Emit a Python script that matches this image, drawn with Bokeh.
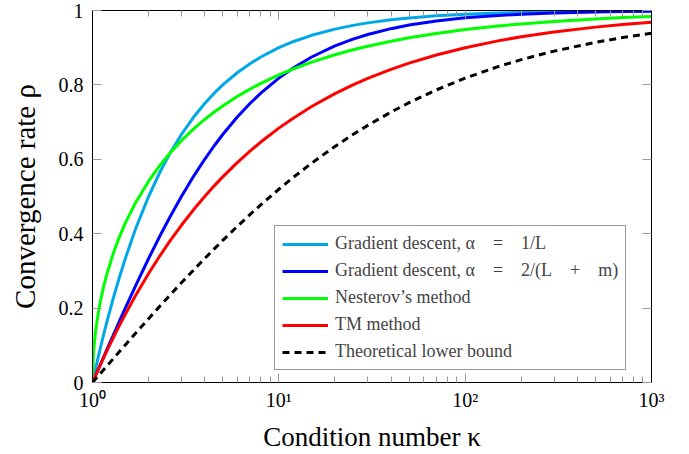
from bokeh.plotting import figure
from bokeh.models import Range1d, FixedTicker, LogAxis, LinearAxis, Legend, LegendItem
from bokeh.embed import file_html
from bokeh.resources import INLINE

# condition number kappa
kappa = [1, 1.01, 1.02, 1.04, 1.07, 1.1, 1.15, 1.2, 1.3, 1.4, 1.5, 1.7, 2, 2.3, 2.6, 3,
         3.5, 4, 4.5, 5, 6, 7, 8, 10, 12, 15, 20, 25, 30, 40, 50, 70, 100, 150, 200,
         300, 500, 700, 1000]
# convergence rates
gd_inv_L = [0, 0.0099, 0.0196, 0.0385, 0.0654, 0.0909, 0.1304, 0.1667, 0.2308, 0.2857,
            0.3333, 0.4118, 0.5, 0.5652, 0.6154, 0.6667, 0.7143, 0.75, 0.7778, 0.8,
            0.8333, 0.8571, 0.875, 0.9, 0.9167, 0.9333, 0.95, 0.96, 0.9667, 0.975,
            0.98, 0.9857, 0.99, 0.9933, 0.995, 0.9967, 0.998, 0.9986, 0.999]
gd_2_Lm = [0, 0.005, 0.0099, 0.0196, 0.0338, 0.0476, 0.0698, 0.0909, 0.1304, 0.1667,
           0.2, 0.2593, 0.3333, 0.3939, 0.4444, 0.5, 0.5556, 0.6, 0.6364, 0.6667,
           0.7143, 0.75, 0.7778, 0.8182, 0.8462, 0.875, 0.9048, 0.9231, 0.9355, 0.9512,
           0.9608, 0.9718, 0.9802, 0.9868, 0.99, 0.9934, 0.996, 0.9971, 0.998]
nesterov = [0, 0.0704, 0.0993, 0.1394, 0.1824, 0.2157, 0.2598, 0.2952, 0.3506, 0.3935,
            0.4284, 0.4827, 0.5412, 0.5836, 0.6163, 0.6501, 0.6823, 0.7071, 0.727,
            0.7435, 0.7693, 0.7887, 0.804, 0.8269, 0.8434, 0.8613, 0.8811, 0.8944,
            0.9041, 0.9175, 0.9266, 0.9383, 0.9487, 0.9583, 0.964, 0.9707, 0.9774,
            0.9809, 0.9841]
tm_method = [0, 0.005, 0.0099, 0.0194, 0.0333, 0.0465, 0.0675, 0.0871, 0.1229, 0.1548,
             0.1835, 0.233, 0.2929, 0.3406, 0.3798, 0.4226, 0.4655, 0.5, 0.5286, 0.5528,
             0.5918, 0.622, 0.6464, 0.6838, 0.7113, 0.7418, 0.7764, 0.8, 0.8174, 0.8419,
             0.8586, 0.8805, 0.9, 0.9184, 0.9293, 0.9423, 0.9553, 0.9622, 0.9684]
lower_bound = [0, 0.0025, 0.005, 0.0098, 0.0169, 0.0238, 0.0349, 0.0455, 0.0655, 0.0839,
               0.101, 0.1319, 0.1716, 0.2053, 0.2344, 0.2679, 0.3033, 0.3333, 0.3592,
               0.382, 0.4202, 0.4514, 0.4776, 0.5195, 0.552, 0.5896, 0.6345, 0.6667,
               0.6912, 0.727, 0.7522, 0.7865, 0.8182, 0.849, 0.8679, 0.8908, 0.9144,
               0.9272, 0.9387]

series_labels = ["Gradient descent, α\u2003=\u20031/L",
                 "Gradient descent, α\u2003=\u20032/(L\u2003+\u2003m)",
                 "Nesterov’s method", "TM method", "Theoretical lower bound"]
x_major = [1, 10, 100, 1000]
x_major_labels = ["10⁰", "10¹", "10²", "10³"]
x_minor = [2, 3, 4, 5, 6, 7, 8, 9, 20, 30, 40, 50, 60, 70, 80, 90,
           200, 300, 400, 500, 600, 700, 800, 900]
y_major = [0, 0.2, 0.4, 0.6, 0.8, 1]
y_major_labels = ["0", "0.2", "0.4", "0.6", "0.8", "1"]

FONT = "Liberation Serif, serif"

p = figure(width=673, height=454, x_axis_type="log",
           x_range=Range1d(1, 1000), y_range=Range1d(0, 1),
           output_backend="svg", toolbar_location=None,
           min_border_left=92, min_border_right=22, min_border_top=10, min_border_bottom=10)
p.grid.visible = False
p.outline_line_color = "black"
p.background_fill_color = "white"
p.border_fill_color = "white"

def style_axis(ax, labels_visible=True):
    ax.axis_line_color = "black"
    ax.axis_line_width = 1
    ax.major_tick_in = 9
    ax.major_tick_out = 0
    ax.minor_tick_in = 6
    ax.minor_tick_out = 0
    ax.major_tick_line_color = "#999999"
    ax.minor_tick_line_color = "#999999"
    ax.major_label_text_font = FONT
    ax.major_label_text_font_size = "20px"
    ax.major_label_text_color = "black" if labels_visible else None
    ax.axis_label_text_font = FONT
    ax.axis_label_text_font_style = "normal"
    ax.axis_label_text_color = "black"

xt = FixedTicker(ticks=x_major, minor_ticks=x_minor)
yt = FixedTicker(ticks=y_major, minor_ticks=[])

xa = p.xaxis[0]
xa.ticker = xt
xa.major_label_overrides = {v: s for v, s in zip(x_major, x_major_labels)}
xa.axis_label = "Condition number κ"
style_axis(xa)
xa.axis_label_text_font_size = "27px"
xa.major_label_standoff = 6
xa.axis_label_standoff = 8

ya = p.yaxis[0]
ya.ticker = yt
ya.major_label_overrides = {v: s for v, s in zip(y_major, y_major_labels)}
ya.axis_label = "Convergence rate ρ"
style_axis(ya)
ya.axis_label_text_font_size = "29px"
ya.major_label_standoff = 9
ya.axis_label_standoff = 15

top = LogAxis(ticker=FixedTicker(ticks=x_major, minor_ticks=x_minor))
style_axis(top, labels_visible=False)
top.major_label_text_font_size = "1px"
top.major_label_standoff = 0
p.add_layout(top, "above")
right = LinearAxis(ticker=FixedTicker(ticks=y_major, minor_ticks=[]))
style_axis(right, labels_visible=False)
right.major_label_text_font_size = "1px"
right.major_label_standoff = 0
p.add_layout(right, "right")

colors = ["#00A8E8", "#0000FF", "#00FF00", "#FF0000", "#000000"]
data = [gd_inv_L, gd_2_Lm, nesterov, tm_method, lower_bound]
renderers = []
for i, (ys, c) in enumerate(zip(data, colors)):
    if i == 4:
        r = p.line(kappa, ys, line_color=c, line_width=3, line_dash="7 5")
    else:
        r = p.line(kappa, ys, line_color=c, line_width=3)
    renderers.append(r)

legend = Legend(items=[LegendItem(label=l, renderers=[r]) for l, r in zip(series_labels, renderers)],
                location=(182, 12))
legend.label_text_font = FONT
legend.label_text_font_size = "18px"
legend.label_height = 20
legend.glyph_height = 20
legend.glyph_width = 46
legend.label_standoff = 7
legend.spacing = 6
legend.padding = 7
legend.margin = 0
legend.border_line_color = "#333333"
legend.border_line_width = 1
legend.background_fill_alpha = 1
p.add_layout(legend, "center")

open("out.html", "w").write(file_html(p, INLINE))
